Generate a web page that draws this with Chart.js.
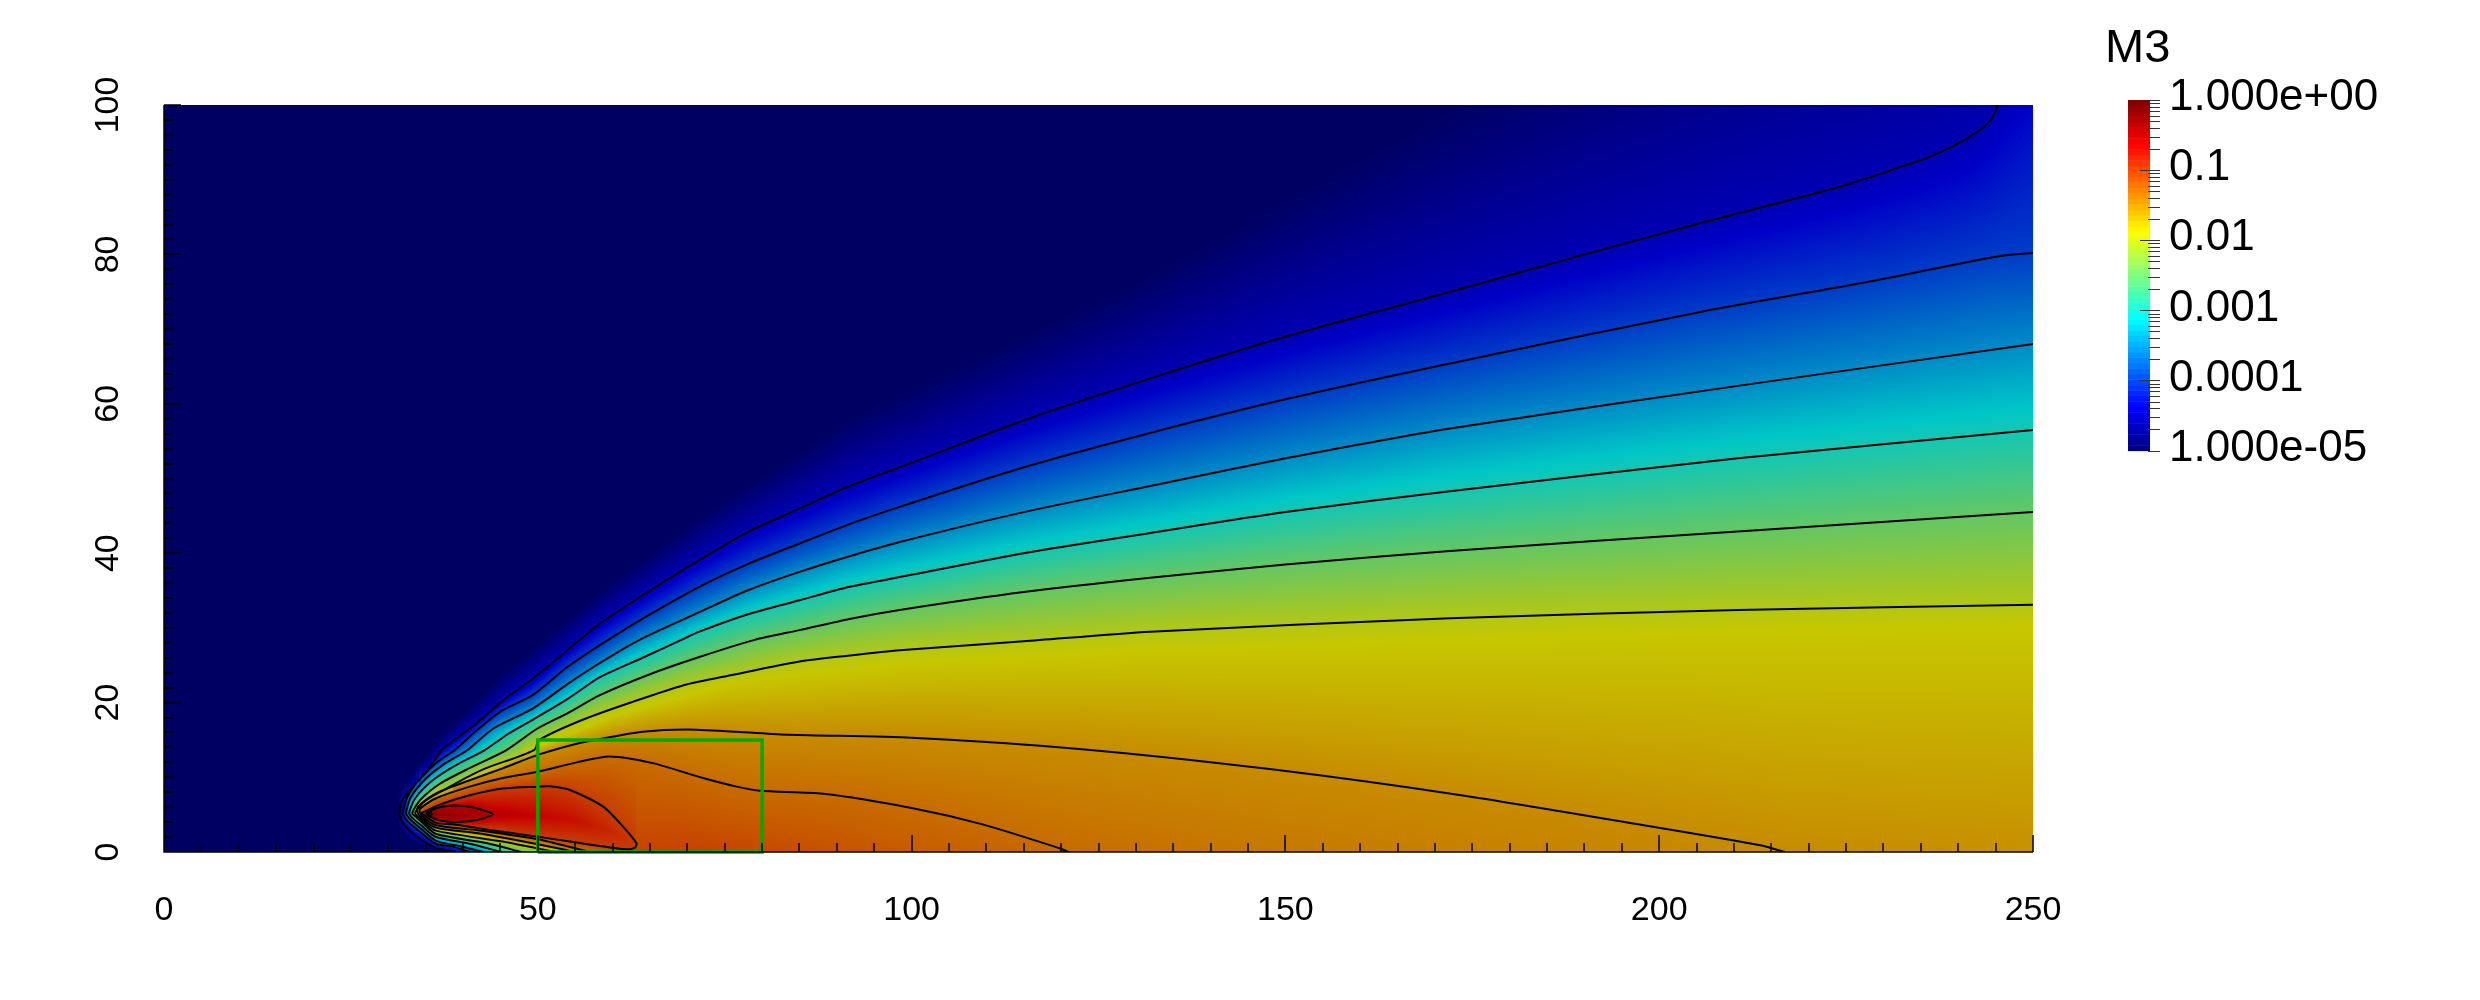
<!DOCTYPE html>
<html>
<head>
<meta charset="utf-8">
<title>M3</title>
<script src="https://cdn.jsdelivr.net/npm/chart.js@4/dist/chart.umd.min.js"></script>
<style>
  html, body { margin: 0; padding: 0; background: #fff; overflow: hidden; }
  canvas { position: absolute; display: block; }
  #plot { left: 0; top: 0; }
  #cbar { left: 2105px; top: 23px; }
</style>
</head>
<body>
<canvas id="plot" width="2480" height="1000"></canvas>
<canvas id="cbar" width="375" height="473"></canvas>
<script>
// contour lines of log10(M3) as [x, y]
const lineM45 = [[39.1,0],[36.4,0.5],[33.5,2.3],[32,3.8],[31.5,5.2],[31.9,7],[33.3,8.8],[35.5,11.2],[37.1,13.65],[41.5,17],[45.3,20.3],[49.3,23.2],[55.6,28.4],[58.3,30.6],[65,35],[71.6,39.1],[78,42.8],[85,46],[91.7,49],[98.4,51.5],[115,57.8],[131.9,63.4],[150,69],[172,75],[190,80],[205.5,84.2],[224.6,89.2],[231,91.3],[236.7,93.3],[241.1,95.5],[244.2,97.8],[245.3,100]];
const lineM40 = [[40.9,0],[38.5,0.75],[36.4,1.07],[34,2.9],[32.6,4.1],[32,5.2],[32.6,7.5],[34.2,9.8],[36.5,12],[38.9,13.65],[41.5,16],[45,18.8],[49.3,21],[54,24.8],[59.4,28.4],[65,31.8],[71.6,35.5],[78,38.5],[85,41.3],[91.7,43.9],[98.4,46.2],[115,51.5],[131.9,56.1],[150,60.6],[172,65.4],[205.5,72.3],[227.8,76.3],[245,79.7],[250,80.2]];
const lineM35 = [[42.7,0],[39.5,0.8],[36.4,1.5],[34.4,3.1],[33,4.3],[32.4,5.2],[33,7.3],[35,9.8],[37.5,11.8],[40.6,13.65],[44,16.5],[49.3,19.2],[54,22.5],[58.3,25.3],[63.6,28.4],[71.6,32.1],[78,35],[85,37.5],[91.7,39.6],[98.4,41.5],[115,45.5],[131.9,49],[150,52.7],[172,56.7],[210.5,62.4],[250,68]];
const lineM30 = [[45.1,0],[40.9,1.1],[36.4,2],[34.6,3.4],[33.3,4.5],[32.8,5.2],[33.6,7.2],[35.8,9.5],[38.8,11.5],[42.9,13.65],[46,15.8],[49.3,17.7],[54,20.5],[58.3,23.4],[64,26],[69.2,28.4],[71.6,29.5],[78,31.8],[85,33.7],[91.7,35.5],[98.4,36.8],[115,40],[131.9,42.7],[150,45.5],[172,48.3],[210.5,52.7],[250,56.5]];
const lineM25 = [[47.8,0],[43.1,1.2],[36.4,2.4],[34.7,3.8],[33.7,4.7],[33.2,5.2],[34.3,7],[37,9.2],[41,11.3],[45.8,13.65],[49.9,16.5],[54,18.6],[58.3,21],[65,23.8],[71.6,26.1],[79,28.4],[85,29.7],[91.7,31.2],[98.4,32.4],[115,34.8],[131.9,36.7],[150,38.5],[172,40.3],[210.5,42.9],[250,45.5]];
const lineM20 = [[52.3,0],[45.3,1.4],[36.4,2.86],[34.7,4.1],[33.6,5.2],[35,6.9],[38.5,8.9],[40.9,10.2],[43,11.2],[49.5,13.65],[50.2,15],[56,17.7],[62.7,20.1],[69.4,22.3],[76,23.7],[85,25.5],[91.7,26.3],[98.4,27],[115,28.2],[131.9,29.5],[172,31.3],[210.5,32.4],[250,33.1]];
const lineM15 = [[216.8,0],[213.5,0.9],[199,3.4],[173.5,7.6],[147.9,11.1],[122.4,13.8],[100,15.3],[83.7,15.7],[76.6,16.1],[69.9,16.4],[64,16.1],[58.7,15.2],[55.2,14.5],[50,13],[45.3,11.2],[40.9,9.6],[36.4,7.85],[34,6.1],[33.9,5.4],[34.4,4.6],[36.4,3.26],[42,2.5],[47.6,1.5],[53.8,0.27],[54.7,0]];
const lineM13 = [[121,0],[119.8,0.5],[109.5,3.7],[100,5.9],[88.2,7.8],[79.7,8.2],[76.6,8.75],[72.1,9.9],[65.4,11.9],[59.6,12.8],[55.2,12],[50,10.75],[45.3,9.9],[40.9,8.75],[36.4,7.2],[34.3,5.85],[34.2,5.4],[34.5,4.8],[36.4,3.57],[42,2.9],[50,1.7],[53,1],[57,0]];
const lineM10 = [[34.4,5.2],[36.4,3.9],[38.6,3.7],[45.3,2.7],[50,2.05],[54.3,1.4],[61.8,0.36],[63,0.6],[63.2,1.16],[61.4,3.4],[58.7,6.1],[54.3,8.3],[51.6,8.8],[50,8.75],[45.3,8.5],[40.9,7.6],[37,6.4],[34.4,5.2]];
const lineM05 = [[35,5.1],[36.4,5.85],[38.2,6.2],[40.9,6.07],[42.7,5.6],[44,5.05],[42.7,4.5],[40.9,4.15],[38.6,4],[36.4,4.37],[35,5.1]];
const linePeak = [[35.4,5.05],[35.6,5.4],[35.8,5.05],[35.6,4.7],[35.4,5.05]];
const lineSets = [lineM45, lineM40, lineM35, lineM30, lineM25, lineM20, lineM15, lineM13, lineM10, lineM05, linePeak];
const lineLevels = [-4.5, -4, -3.5, -3, -2.5, -2, -1.5, -1.3, -1, -0.5, -0.15];

// extra undrawn levels, only there to shade the field between the lines
const edgeM50 = [[36.5,0],[33,1.5],[31.4,3.2],[30.9,5.2],[31.4,7.8],[33,10.2],[37,15.5],[45,23.5],[58,34.5],[72,45],[92,58],[130,76],[170,98],[250,140]];
const edgeM45 = [[245.3,100],[250,108]];
const edgeYellow = [[53,0],[46,1.4],[36.4,3],[34.3,4.5],[33.8,5.4],[36,7.4],[40,9.4],[45,11.6],[50,14.1],[60,18.2],[70,21],[76,22.6],[85,23.8],[100,25.4],[130,27],[172,28.4],[210,29.6],[250,30.3]];
const shadeSets = [edgeM50, edgeM45, edgeYellow];
const shadeLevels = [-5, -4.5, -1.875];

// the hot core: where the maximum sits in each column and how high it is
const ridgeX = [34.4, 35, 35.6, 38, 41, 44, 47, 50, 55, 60, 63.2];
const ridgeY = [5.2, 5.1, 5.05, 5.05, 5.05, 5.05, 5, 4.8, 4.3, 2.7, 1.16];
const ridgeLog = [-1, -0.5, -0.15, -0.3, -0.4, -0.5, -0.57, -0.63, -0.72, -0.87, -1];

// log10(M3) along the y=0 edge
const bottomX = [0,36.5,39.1,40.9,42.7,45.1,47.8,52.3,53,54.7,57,62,70,80,100,121,150,180,216.8,250];
const bottomLog = [-5,-5,-4.5,-4,-3.5,-3,-2.5,-2,-1.875,-1.5,-1.3,-1.05,-1.03,-1.08,-1.2,-1.3,-1.38,-1.44,-1.5,-1.53];

const boxX = [50, 80, 80, 50, 50];
const boxY = [0, 0, 15, 15, 0];

const cbarTitle = 'M3';
const cbarDecades = [1, 0.1, 0.01, 0.001, 0.0001, 0.00001];
const cbarLabels = ['1.000e+00', '0.1', '0.01', '0.001', '0.0001', '1.000e-05'];

const jetStops = [[0, 0, 0, 0.5], [0.125, 0, 0, 1], [0.375, 0, 1, 1], [0.625, 1, 1, 0], [0.875, 1, 0, 0], [1, 0.5, 0, 0]];
const SHADE = 0.78;

function jet(t) {
  t = Math.max(0, Math.min(1, t));
  for (let i = 1; i < jetStops.length; i++) {
    if (t <= jetStops[i][0]) {
      const a = jetStops[i - 1], b = jetStops[i];
      const f = (t - a[0]) / (b[0] - a[0]);
      return [a[1] + (b[1] - a[1]) * f, a[2] + (b[2] - a[2]) * f, a[3] + (b[3] - a[3]) * f];
    }
  }
  return [0.5, 0, 0];
}

function lookup(xs, ys, x) {
  for (let i = 1; i < xs.length; i++) {
    if (x <= xs[i]) {
      const f = (x - xs[i - 1]) / (xs[i] - xs[i - 1]);
      return ys[i - 1] + (ys[i] - ys[i - 1]) * f;
    }
  }
  return ys[ys.length - 1];
}

function crossingsAt(x) {
  const out = [];
  const add = (pts, level) => {
    for (let i = 1; i < pts.length; i++) {
      const [x0, y0] = pts[i - 1], [x1, y1] = pts[i];
      if ((x0 <= x && x < x1) || (x1 <= x && x < x0)) {
        out.push([y0 + (y1 - y0) * (x - x0) / (x1 - x0), level]);
      }
    }
  };
  lineSets.forEach((pts, i) => add(pts, lineLevels[i]));
  shadeSets.forEach((pts, i) => add(pts, shadeLevels[i]));
  if (x >= ridgeX[0] && x < ridgeX[ridgeX.length - 1]) {
    out.push([lookup(ridgeX, ridgeY, x), lookup(ridgeX, ridgeLog, x)]);
  }
  out.sort((a, b) => a[0] - b[0]);
  out.unshift([0, lookup(bottomX, bottomLog, x)]);
  return out;
}

// paints the M3 field column by column behind the contour datasets
const fieldPlugin = {
  id: 'field',
  beforeDatasetsDraw(chart) {
    const { ctx, chartArea: a, scales } = chart;
    const w = Math.round(a.right - a.left), h = Math.round(a.bottom - a.top);
    const img = ctx.createImageData(w, h);
    for (let px = 0; px < w; px++) {
      const cross = crossingsAt(scales.x.getValueForPixel(a.left + px + 0.5));
      for (let py = 0; py < h; py++) {
        const y = scales.y.getValueForPixel(a.top + py + 0.5);
        let k = 1;
        while (k < cross.length && cross[k][0] < y) k++;
        let v;
        if (k >= cross.length) {
          v = cross[cross.length - 1][1];
        } else {
          const p = cross[k - 1], q = cross[k];
          v = q[0] > p[0] ? p[1] + (q[1] - p[1]) * (y - p[0]) / (q[0] - p[0]) : q[1];
        }
        const c = jet((v + 5) / 5);
        const o = (py * w + px) * 4;
        img.data[o] = c[0] * 255 * SHADE;
        img.data[o + 1] = c[1] * 255 * SHADE;
        img.data[o + 2] = c[2] * 255 * SHADE;
        img.data[o + 3] = 255;
      }
    }
    ctx.putImageData(img, Math.round(a.left), Math.round(a.top));
  }
};

// axis lines and the inward tick marks
const inwardTicks = {
  id: 'inwardTicks',
  afterDatasetsDraw(chart) {
    const { ctx, chartArea: a, scales } = chart;
    ctx.save();
    ctx.strokeStyle = '#000';
    ctx.lineWidth = 1.5;
    ctx.beginPath();
    scales.x.ticks.forEach(t => {
      const p = Math.round(scales.x.getPixelForValue(t.value));
      ctx.moveTo(p, a.bottom);
      ctx.lineTo(p, a.bottom - (t.value % 50 === 0 ? 17 : 9));
    });
    scales.y.ticks.forEach(t => {
      const p = Math.round(scales.y.getPixelForValue(t.value));
      ctx.moveTo(a.left, p);
      ctx.lineTo(a.left + (t.value % 20 === 0 ? 17 : 9), p);
    });
    ctx.moveTo(a.left, a.top);
    ctx.lineTo(a.left, a.bottom);
    ctx.lineTo(a.right, a.bottom);
    ctx.stroke();
    ctx.restore();
  }
};

const toPoints = pts => pts.map(([x, y]) => ({ x, y }));

const lineDatasets = lineSets.map((pts, i) => ({
  label: String(lineLevels[i]),
  data: toPoints(pts),
  showLine: true,
  borderColor: '#000',
  borderWidth: 2,
  pointRadius: 0,
  tension: 0.25,
  order: 2
}));

new Chart(document.getElementById('plot'), {
  type: 'scatter',
  data: {
    datasets: [...lineDatasets, {
      label: 'box',
      data: boxX.map((x, i) => ({ x, y: boxY[i] })),
      showLine: true,
      borderColor: '#00aa00',
      borderWidth: 3.4,
      pointRadius: 0,
      tension: 0,
      clip: false,
      order: 1
    }]
  },
  plugins: [fieldPlugin, inwardTicks],
  options: {
    responsive: false,
    animation: false,
    layout: { padding: { left: 0, right: 447, top: 105, bottom: 0 } },
    plugins: { legend: { display: false }, tooltip: { enabled: false }, title: { display: false } },
    scales: {
      x: {
        type: 'linear',
        min: 0,
        max: 250,
        afterFit: s => { s.height = 148; },
        grid: { display: false, drawTicks: false },
        border: { display: false },
        ticks: {
          stepSize: 5,
          autoSkip: false,
          maxRotation: 0,
          padding: 38,
          color: '#000',
          font: { family: 'Liberation Sans', size: 34 },
          callback: v => (v % 50 === 0 ? String(v) : '')
        }
      },
      y: {
        type: 'linear',
        min: 0,
        max: 100,
        afterFit: s => { s.width = 164; },
        grid: { display: false, drawTicks: false },
        border: { display: false },
        ticks: {
          stepSize: 2,
          autoSkip: false,
          minRotation: 90,
          maxRotation: 90,
          crossAlign: 'center',
          padding: 27,
          color: '#000',
          font: { family: 'Liberation Sans', size: 34 },
          callback: v => (v % 20 === 0 ? String(v) : '')
        }
      }
    }
  }
});

// colour bar: bands and tick marks placed through its log scale
const isDecade = v => Math.abs(Math.log10(v) - Math.round(Math.log10(v))) < 1e-6;
const BANDS = 64;

const barPlugin = {
  id: 'bar',
  beforeDatasetsDraw(chart) {
    const { ctx, chartArea: a, scales } = chart;
    const s = scales.y;
    for (let i = 0; i < BANDS; i++) {
      const y0 = s.getPixelForValue(Math.pow(10, -5 + 5 * i / BANDS));
      const y1 = s.getPixelForValue(Math.pow(10, -5 + 5 * (i + 1) / BANDS));
      const c = jet((i + 0.5) / BANDS);
      ctx.fillStyle = `rgb(${c[0] * 255},${c[1] * 255},${c[2] * 255})`;
      ctx.fillRect(a.left, y1, a.right - a.left, y0 - y1 + 0.5);
    }
  },
  afterDatasetsDraw(chart) {
    const { ctx, chartArea: a, scales } = chart;
    const s = scales.y;
    ctx.save();
    ctx.strokeStyle = '#333';
    ctx.lineWidth = 1;
    ctx.beginPath();
    s.ticks.forEach(t => {
      const p = Math.round(s.getPixelForValue(t.value)) + 0.5;
      const inner = isDecade(t.value) && t.value < 1 && t.value > 0.00001 ? 10 : 2;
      ctx.moveTo(a.right - inner, p);
      ctx.lineTo(a.right + 10, p);
    });
    ctx.stroke();
    ctx.fillStyle = '#000';
    ctx.font = "47px 'Liberation Sans'";
    ctx.textBaseline = 'alphabetic';
    ctx.fillText(cbarTitle, a.left - 23, a.top - 38);
    ctx.restore();
  }
};

new Chart(document.getElementById('cbar'), {
  type: 'scatter',
  data: { datasets: [{ label: 'M3', data: [], pointRadius: 0 }] },
  plugins: [barPlugin],
  options: {
    responsive: false,
    animation: false,
    layout: { padding: { left: 23, right: 0, top: 77, bottom: 0 } },
    plugins: { legend: { display: false }, tooltip: { enabled: false }, title: { display: false } },
    scales: {
      x: { type: 'linear', display: false },
      y: {
        type: 'logarithmic',
        position: 'right',
        min: 0.00001,
        max: 1,
        afterFit: s => { s.width = 330; },
        afterBuildTicks: s => {
          const vals = [];
          cbarDecades.forEach(d => {
            vals.push(d);
            if (d < 1) for (let m = 2; m < 10; m++) vals.push(d * m);
          });
          s.ticks = vals.map(value => ({ value }));
        },
        grid: { display: false, drawTicks: false },
        border: { display: false },
        ticks: {
          autoSkip: false,
          padding: 19,
          labelOffset: -2,
          color: '#000',
          font: { family: 'Liberation Sans', size: 44 },
          callback: v => {
            if (!isDecade(v)) return '';
            return cbarLabels[cbarDecades.findIndex(d => Math.abs(Math.log10(d) - Math.log10(v)) < 1e-6)];
          }
        }
      }
    }
  }
});
</script>
</body>
</html>
